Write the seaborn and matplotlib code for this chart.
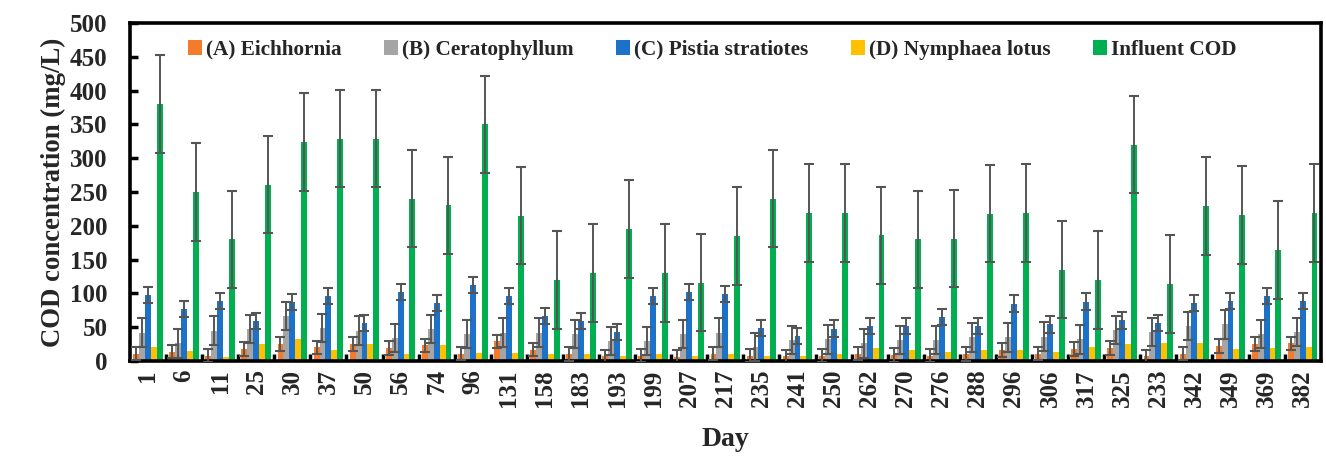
import matplotlib
matplotlib.use("Agg")
import matplotlib.pyplot as plt
from matplotlib.patches import Patch
from matplotlib.ticker import FixedLocator, MultipleLocator
import seaborn as sns
import pandas as pd
import numpy as np

# Sampling days (kept in recorded order)
days = ["1", "6", "11", "25", "30", "37", "50", "56", "74", "96", "131", "158",
        "183", "193", "199", "207", "217", "235", "241", "250", "262", "270",
        "276", "288", "296", "306", "317", "325", "233", "342", "349", "369", "382"]

# Effluent COD (mg/L) for each treatment
eichhornia = [11, 14, 8, 18, 25, 20, 25, 19, 23, 11, 29, 17,
              10, 7, 8, 6, 11, 8, 7, 8, 11, 9, 8, 10, 16, 11, 18, 19, 7, 11, 22, 25, 26]
ceratophyllum = [42, 26, 45, 47, 67, 49, 45, 34, 47, 40, 42, 42,
                 40, 30, 30, 40, 42, 21, 31, 32, 26, 31, 31, 35, 35, 36, 32, 46, 43, 52, 54, 40, 43]
pistia = [98, 77, 89, 59, 87, 96, 56, 102, 86, 112, 96, 66,
          59, 43, 96, 102, 99, 49, 37, 48, 52, 52, 65, 52, 85, 54, 88, 60, 56, 86, 89, 96, 89]
nymphaea = [20, 15, 6, 25, 32, 16, 25, 10, 23, 12, 12, 11,
            10, 8, 10, 7, 11, 8, 7, 11, 19, 17, 14, 16, 16, 14, 20, 25, 26, 26, 18, 19, 21]
influent = [380, 250, 180, 261, 324, 329, 329, 240, 230, 350, 215, 120,
            130, 195, 130, 116, 185, 240, 219, 219, 186, 180, 181, 218, 219, 135,
            120, 320, 114, 229, 216, 164, 219]

# Standard deviation shown for each series (None = no error bar)
series_names = ["(A) Eichhornia", "(B) Ceratophyllum", "(C) Pistia stratiotes",
                "(D) Nymphaea lotus", "Influent COD"]
series_values = [eichhornia, ceratophyllum, pistia, nymphaea, influent]
series_errors = [10, 21, 12, None, 72]
series_colors = ["#F47B2C", "#A5A5A5", "#1C72C9", "#FFC000", "#00B050"]

rows = []
for name, vals in zip(series_names, series_values):
    for d, v in zip(days, vals):
        rows.append({"Day": d, "COD": v, "Series": name})
df = pd.DataFrame(rows)

sns.set_theme(style="white")
plt.rcParams["font.family"] = ["Liberation Serif", "DejaVu Serif"]
plt.rcParams["font.weight"] = "bold"

fig = plt.figure(figsize=(13.26, 4.59), dpi=100)
ax = fig.add_axes([0.098, 0.2135, 0.898, 0.7365])

sns.barplot(data=df, x="Day", y="COD", hue="Series", order=days,
            hue_order=series_names, palette=series_colors, errorbar=None,
            width=0.82, saturation=1.0, linewidth=0, legend=False, ax=ax)

# Error bars on top of each hue container
for cont, err in zip(ax.containers, series_errors):
    if err is None:
        continue
    xs = [b.get_x() + b.get_width() / 2 for b in cont]
    hs = [b.get_height() for b in cont]
    ax.errorbar(xs, hs, yerr=err, fmt="none", ecolor="#555555",
                elinewidth=1.4, capsize=3.8, capthick=1.5, zorder=3)

ax.set_xlim(-0.5, len(days) - 0.5)
ax.set_ylim(0, 500)
ax.yaxis.set_major_locator(MultipleLocator(50))

# Category labels at centres, tick marks at group boundaries
ax.set_xticks(range(len(days)))
ax.set_xticklabels(days, rotation=90, fontsize=18, fontweight="bold")
ax.xaxis.set_minor_locator(FixedLocator(np.arange(0.5, len(days) - 0.5, 1.0)))
ax.tick_params(axis="x", which="major", length=0, pad=6)
ax.tick_params(axis="x", which="minor", direction="in", length=5, width=2.5,
               color="black", bottom=True)
ax.tick_params(axis="y", which="major", direction="in", length=6, width=2.5,
               color="black", labelsize=18, pad=16, left=True)
for lab in ax.get_yticklabels():
    lab.set_fontweight("bold")

for sp in ax.spines.values():
    sp.set_linewidth(2.6)
    sp.set_color("black")

ax.set_xlabel("Day", fontsize=20, fontweight="bold", labelpad=14)
ax.set_ylabel("COD concentration (mg/L)", fontsize=19.3, fontweight="bold", labelpad=3)

handles = [Patch(facecolor=c, edgecolor="none") for c in series_colors]
ax.legend(handles, series_names, loc="upper center", ncol=5, frameon=False,
          bbox_to_anchor=(0.489, 1.0), prop={"weight": "bold", "size": 15.3},
          handlelength=0.65, handleheight=0.65, handletextpad=0.2,
          columnspacing=2.0, borderaxespad=0.4)

fig.savefig("out.png", dpi=100)
